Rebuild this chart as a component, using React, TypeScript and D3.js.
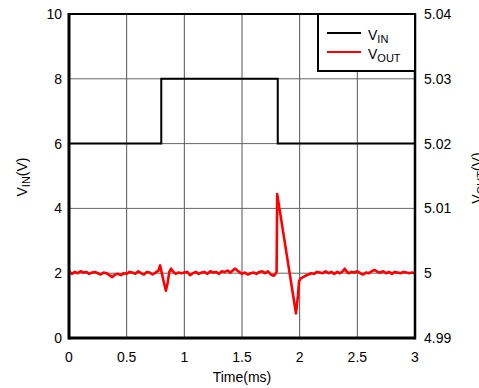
import React from "react";
import * as d3 from "d3";

const xTicks = [0, 0.5, 1, 1.5, 2, 2.5, 3];
const xTickLabels = ["0", "0.5", "1", "1.5", "2", "2.5", "3"];
const leftTicks = [0, 2, 4, 6, 8, 10];
const rightTicks = [4.99, 5, 5.01, 5.02, 5.03, 5.04];
const rightTickLabels = ["4.99", "5", "5.01", "5.02", "5.03", "5.04"];

const vinTime = [0, 0.8, 0.8, 1.81, 1.81, 3];
const vinVolt = [6, 6, 8, 8, 6, 6];

const voutTime = [
  0, 0.025, 0.05, 0.075, 0.1, 0.125, 0.15, 0.175, 0.2, 0.225, 0.25, 0.275, 0.3, 0.325, 0.35, 0.375,
  0.4, 0.425, 0.45, 0.475, 0.5, 0.525, 0.55, 0.575, 0.6, 0.625, 0.65, 0.675, 0.7, 0.725, 0.75, 0.775,
  0.79, 0.8, 0.82, 0.84, 0.855, 0.87, 0.885, 0.9, 0.925, 0.95, 0.975, 1.0, 1.025, 1.05, 1.075, 1.1,
  1.125, 1.15, 1.175, 1.2, 1.225, 1.25, 1.275, 1.3, 1.325, 1.35, 1.375, 1.4, 1.425, 1.44, 1.46, 1.475,
  1.5, 1.525, 1.55, 1.575, 1.6, 1.625, 1.65, 1.675, 1.7, 1.725, 1.75, 1.775, 1.79, 1.8, 1.805, 1.968,
  1.985, 1.995, 2.01, 2.03, 2.05, 2.075, 2.1, 2.125, 2.15, 2.175, 2.2, 2.225, 2.25, 2.275, 2.3, 2.325,
  2.35, 2.375, 2.39, 2.41, 2.425, 2.45, 2.475, 2.5, 2.525, 2.55, 2.575, 2.6, 2.625, 2.65, 2.675, 2.7,
  2.725, 2.75, 2.775, 2.8, 2.825, 2.85, 2.875, 2.9, 2.925, 2.95, 2.975, 3.0,
];
// deviation from 5 V, in mV
const voutMilliVolt = [
  0.3, -0.1, 0.2, 0.0, 0.3, 0.1, 0.2, -0.1, 0.1, 0.2, 0.0, -0.2, 0.1, 0.0, -0.3, -0.6,
  -0.2, -0.1, -0.3, 0.0, -0.1, 0.2, 0.1, -0.1, 0.3, 0.0, -0.2, 0.2, 0.1, -0.2, 0.1, 0.4,
  1.2, 0.4, -1.2, -2.7, -1.5, 0.2, 0.7, 0.3, -0.1, 0.1, 0.0, 0.1, 0.2, -0.3, 0.0, 0.2,
  -0.1, 0.1, 0.2, -0.1, 0.3, 0.1, 0.2, -0.1, 0.3, 0.2, 0.4, 0.1, 0.5, 0.7, 0.4, 0.2,
  -0.1, 0.1, -0.2, 0.0, 0.1, -0.1, 0.2, 0.3, 0.0, 0.3, -0.2, -0.4, -0.1, 0.2, 12.2, -6.2,
  -3.5, -1.2, -0.8, -0.6, -0.4, -0.2, 0.0, -0.1, 0.2, 0.1, 0.0, 0.3, 0.0, 0.2, -0.1, 0.2,
  0.0, 0.3, 0.7, 0.2, 0.0, 0.2, 0.1, 0.3, 0.0, -0.2, 0.1, 0.0, 0.3, 0.5, 0.2, 0.1,
  0.3, 0.0, 0.2, -0.1, 0.2, 0.1, 0.0, 0.2, 0.1, 0.0, 0.1, 0.0,
];

const W = 479;
const H = 388;
const L = 69, R = 415, T = 14, B = 338;
const FONT = "'Liberation Sans', Arial, sans-serif";

export default function App() {
  const x = d3.scaleLinear().domain([0, 3]).range([L, R]);
  const yL = d3.scaleLinear().domain([0, 10]).range([B, T]);
  const yR = d3.scaleLinear().domain([4.99, 5.04]).range([B, T]);

  const vinLine = d3
    .line<number>()
    .x((_, i) => x(vinTime[i]))
    .y((d) => yL(d))(vinVolt) as string;

  const voutLine = d3
    .line<number>()
    .x((_, i) => x(voutTime[i]))
    .y((d) => yR(5 + d / 1000))(voutMilliVolt) as string;

  return (
    <svg
      width={W}
      height={H}
      style={{ position: "absolute", left: 0, top: 0, display: "block", background: "#fff" }}
      fontFamily={FONT}
    >
      {/* grid */}
      {xTicks.slice(1, -1).map((t) => (
        <line key={"gx" + t} x1={x(t)} x2={x(t)} y1={T} y2={B} stroke="#555" strokeWidth={1} />
      ))}
      {leftTicks.slice(1, -1).map((t) => (
        <line key={"gy" + t} x1={L} x2={R} y1={yL(t)} y2={yL(t)} stroke="#666" strokeWidth={1} />
      ))}

      {/* traces */}
      <path d={vinLine} fill="none" stroke="#000" strokeWidth={2} />
      <path d={voutLine} fill="none" stroke="#ff0000" strokeWidth={2.6} strokeLinejoin="round" />

      {/* frame */}
      <line x1={L} x2={L} y1={T - 1} y2={B + 1.5} stroke="#000" strokeWidth={3} />
      <line x1={L} x2={R} y1={B} y2={B} stroke="#000" strokeWidth={3} />
      <line x1={R} x2={R} y1={T - 1} y2={B + 1.5} stroke="#000" strokeWidth={2.5} />
      <line x1={L} x2={R} y1={T} y2={T} stroke="#000" strokeWidth={2} />

      {/* left ticks */}
      {leftTicks.map((t) => (
        <text key={"lt" + t} x={L - 7} y={yL(t) + 5} textAnchor="end" fontSize={14} fill="#000">
          {t}
        </text>
      ))}
      {/* right ticks */}
      {rightTicks.map((t, i) => (
        <text key={"rt" + t} x={R + 9} y={yR(t) + 5} textAnchor="start" fontSize={14} fill="#000">
          {rightTickLabels[i]}
        </text>
      ))}
      {/* x ticks */}
      {xTicks.map((t, i) => (
        <text key={"xt" + t} x={x(t)} y={362} textAnchor="middle" fontSize={14} fill="#000">
          {xTickLabels[i]}
        </text>
      ))}

      {/* axis titles */}
      <text x={242} y={382} textAnchor="middle" fontSize={14} fill="#000">
        Time(ms)
      </text>
      <text transform="translate(27,177) rotate(-90)" textAnchor="middle" fontSize={14} fill="#000">
        V<tspan fontSize={11} dy={3}>IN</tspan>
        <tspan dy={-3}>(V)</tspan>
      </text>
      <text transform="translate(482,178) rotate(-90)" textAnchor="middle" fontSize={14} fill="#000">
        V<tspan fontSize={11} dy={3}>OUT</tspan>
        <tspan dy={-3}>(V)</tspan>
      </text>

      {/* legend */}
      <rect x={318} y={14} width={97} height={57} fill="#fff" stroke="#000" strokeWidth={2} />
      <line x1={327} x2={361} y1={33} y2={33} stroke="#000" strokeWidth={2} />
      <line x1={327} x2={361} y1={52} y2={52} stroke="#ff0000" strokeWidth={2} />
      <text x={368} y={40} fontSize={14} fill="#000">
        V<tspan fontSize={11} dy={3}>IN</tspan>
      </text>
      <text x={368} y={59} fontSize={14} fill="#000">
        V<tspan fontSize={11} dy={3}>OUT</tspan>
      </text>
    </svg>
  );
}
